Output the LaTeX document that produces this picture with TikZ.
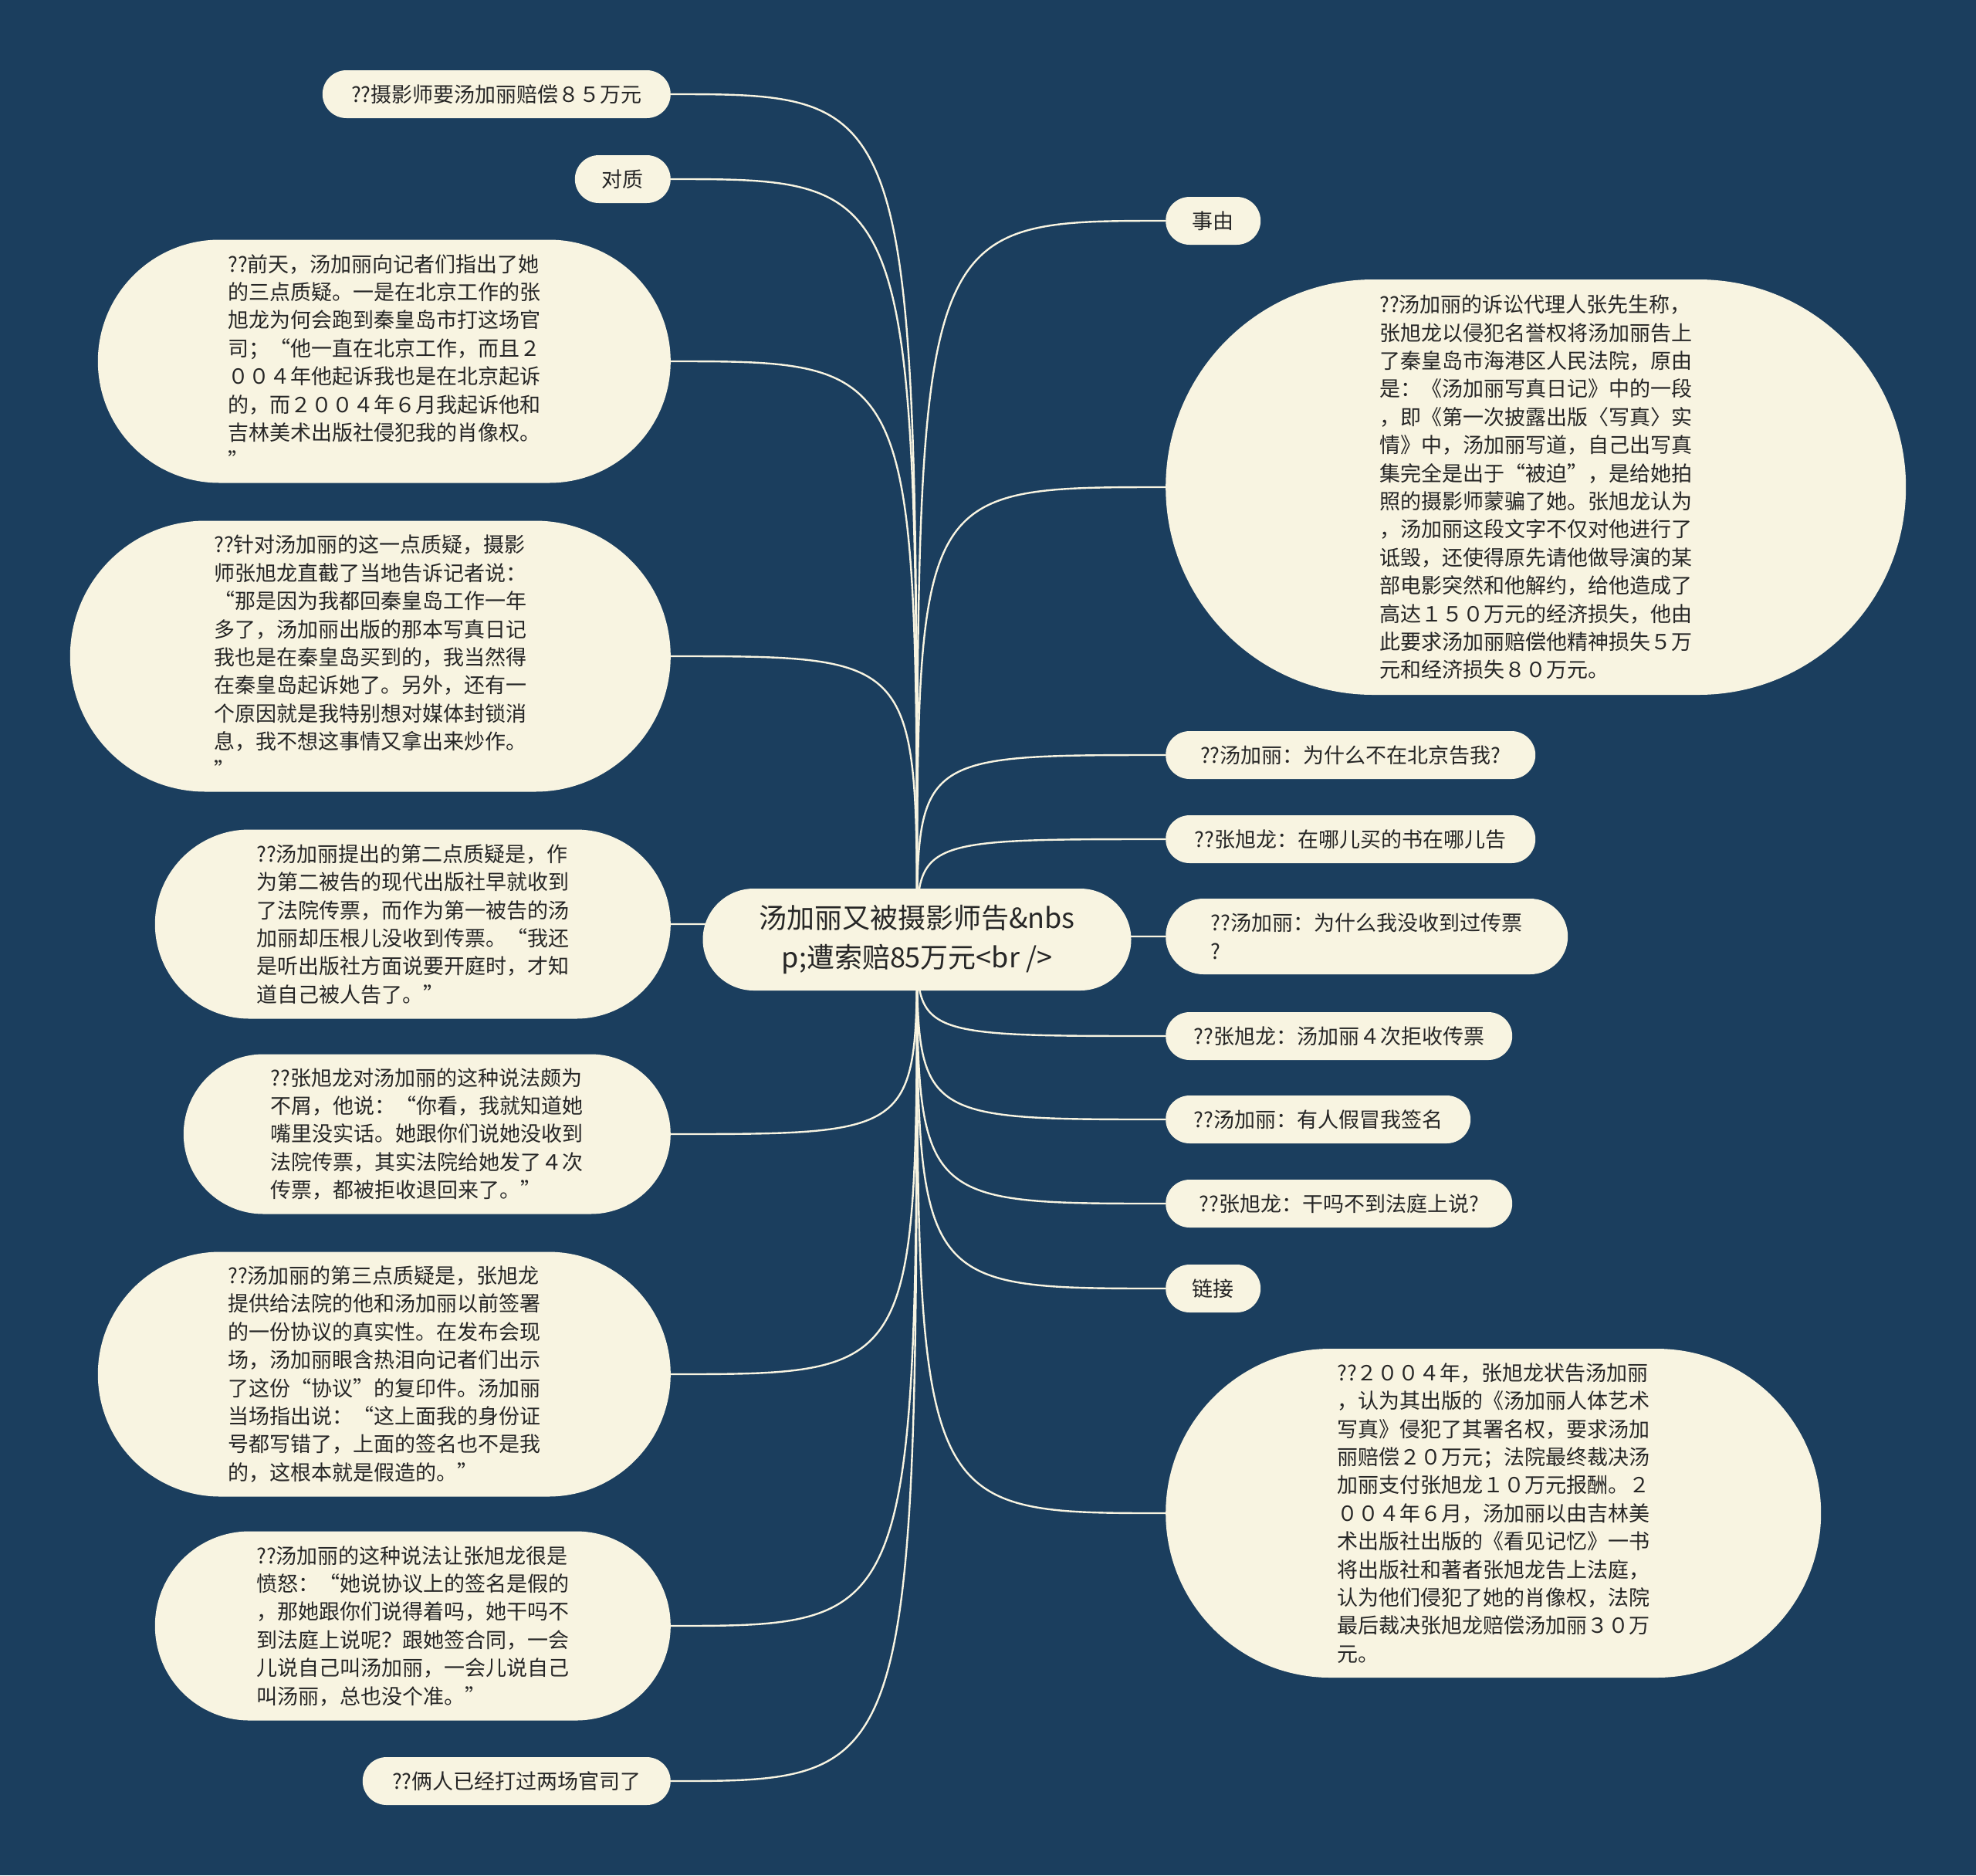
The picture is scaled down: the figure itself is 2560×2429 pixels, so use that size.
\documentclass[tikz,border=0pt]{standalone}
\usepackage{fontspec}
\setmainfont{Noto Sans CJK SC}
\usetikzlibrary{positioning,backgrounds}
\definecolor{navy}{HTML}{1B3E5E}
\definecolor{cream}{HTML}{F8F4E1}
\definecolor{ink}{HTML}{262626}

\begin{document}
\begin{tikzpicture}[
        x=1pt, y=-1pt,
        leaf/.style 2 args={fill=cream, text=ink, align=left, inner sep=0pt,
                  minimum width=#1, minimum height=#2, rounded corners=#2*0.5,
                  font=\fontsize{27}{36.4}\selectfont},
        link/.style={draw=cream, line width=2.4pt}
      ]
        \useasboundingbox (0,0) rectangle (2560,2429);

        \node[leaf={555}{132}, align=center, font=\fontsize{36}{51}\selectfont]
              (root) at (1188,1217) {汤加丽又被摄影师告\&nbs\\p;遭索赔85万元<br />};

        \node[leaf={451}{62}, anchor=east] (l1) at (869,122) {??摄影师要汤加丽赔偿８５万元};
        \node[leaf={124}{62}, anchor=east] (l2) at (869,232) {对质};
        \node[leaf={742}{315}, anchor=east] (l3) at (869,468)
              {??前天，汤加丽向记者们指出了她\\的三点质疑。一是在北京工作的张\\旭龙为何会跑到秦皇岛市打这场官\\司；“他一直在北京工作，而且２\\００４年他起诉我也是在北京起诉\\的，而２００４年６月我起诉他和\\吉林美术出版社侵犯我的肖像权。\\”};
        \node[leaf={778}{351}, anchor=east] (l4) at (869,850)
              {??针对汤加丽的这一点质疑，摄影\\师张旭龙直截了当地告诉记者说：\\“那是因为我都回秦皇岛工作一年\\多了，汤加丽出版的那本写真日记\\我也是在秦皇岛买到的，我当然得\\在秦皇岛起诉她了。另外，还有一\\个原因就是我特别想对媒体封锁消\\息，我不想这事情又拿出来炒作。\\”};
        \node[leaf={668}{245}, anchor=east] (l5) at (869,1197)
              {??汤加丽提出的第二点质疑是，作\\为第二被告的现代出版社早就收到\\了法院传票，而作为第一被告的汤\\加丽却压根儿没收到传票。“我还\\是听出版社方面说要开庭时，才知\\道自己被人告了。”};
        \node[leaf={631}{207}, anchor=east] (l6) at (869,1469)
              {??张旭龙对汤加丽的这种说法颇为\\不屑，他说：“你看，我就知道她\\嘴里没实话。她跟你们说她没收到\\法院传票，其实法院给她发了４次\\传票，都被拒收退回来了。”};
        \node[leaf={742}{317}, anchor=east] (l7) at (869,1780)
              {??汤加丽的第三点质疑是，张旭龙\\提供给法院的他和汤加丽以前签署\\的一份协议的真实性。在发布会现\\场，汤加丽眼含热泪向记者们出示\\了这份“协议”的复印件。汤加丽\\当场指出说：“这上面我的身份证\\号都写错了，上面的签名也不是我\\的，这根本就是假造的。”};
        \node[leaf={668}{245}, anchor=east] (l8) at (869,2106)
              {??汤加丽的这种说法让张旭龙很是\\愤怒：“她说协议上的签名是假的\\，那她跟你们说得着吗，她干吗不\\到法庭上说呢？跟她签合同，一会\\儿说自己叫汤加丽，一会儿说自己\\叫汤丽，总也没个准。”};
        \node[leaf={399}{62}, anchor=east] (l9) at (869,2307) {??俩人已经打过两场官司了};

        \node[leaf={123}{62}, anchor=west] (r1) at (1510,286) {事由};
        \node[leaf={959}{538}, anchor=west] (r2) at (1510,631)
              {??汤加丽的诉讼代理人张先生称，\\张旭龙以侵犯名誉权将汤加丽告上\\了秦皇岛市海港区人民法院，原由\\是：《汤加丽写真日记》中的一段\\，即《第一次披露出版〈写真〉实\\情》中，汤加丽写道，自己出写真\\集完全是出于“被迫”，是给她拍\\照的摄影师蒙骗了她。张旭龙认为\\，汤加丽这段文字不仅对他进行了\\诋毁，还使得原先请他做导演的某\\部电影突然和他解约，给他造成了\\高达１５０万元的经济损失，他由\\此要求汤加丽赔偿他精神损失５万\\元和经济损失８０万元。};
        \node[leaf={479}{62}, anchor=west] (r3) at (1510,978) {??汤加丽：为什么不在北京告我?};
        \node[leaf={479}{62}, anchor=west] (r4) at (1510,1087) {??张旭龙：在哪儿买的书在哪儿告};
        \node[leaf={521}{98}, anchor=west] (r5) at (1510,1213) {??汤加丽：为什么我没收到过传票\\?};
        \node[leaf={449}{62}, anchor=west] (r6) at (1510,1342) {??张旭龙：汤加丽４次拒收传票};
        \node[leaf={395}{62}, anchor=west] (r7) at (1510,1450) {??汤加丽：有人假冒我签名};
        \node[leaf={449}{62}, anchor=west] (r8) at (1510,1559) {??张旭龙：干吗不到法庭上说?};
        \node[leaf={123}{62}, anchor=west] (r9) at (1510,1669) {链接};
        \node[leaf={849}{426}, anchor=west] (r10) at (1510,1960)
              {??２００４年，张旭龙状告汤加丽\\，认为其出版的《汤加丽人体艺术\\写真》侵犯了其署名权，要求汤加\\丽赔偿２０万元；法院最终裁决汤\\加丽支付张旭龙１０万元报酬。２\\００４年６月，汤加丽以由吉林美\\术出版社出版的《看见记忆》一书\\将出版社和著者张旭龙告上法庭，\\认为他们侵犯了她的肖像权，法院\\最后裁决张旭龙赔偿汤加丽３０万\\元。};

        \begin{scope}[on background layer]
          \fill[navy] (0,0) rectangle (2560,2429);
          \foreach \i in {1,...,9}
            \draw[link] (root.center) .. controls (root.center |- l\i.east) .. (l\i.east);
          \foreach \i in {1,...,10}
            \draw[link] (root.center) .. controls (root.center |- r\i.west) .. (r\i.west);
        \end{scope}
      \end{tikzpicture}
\end{document}
